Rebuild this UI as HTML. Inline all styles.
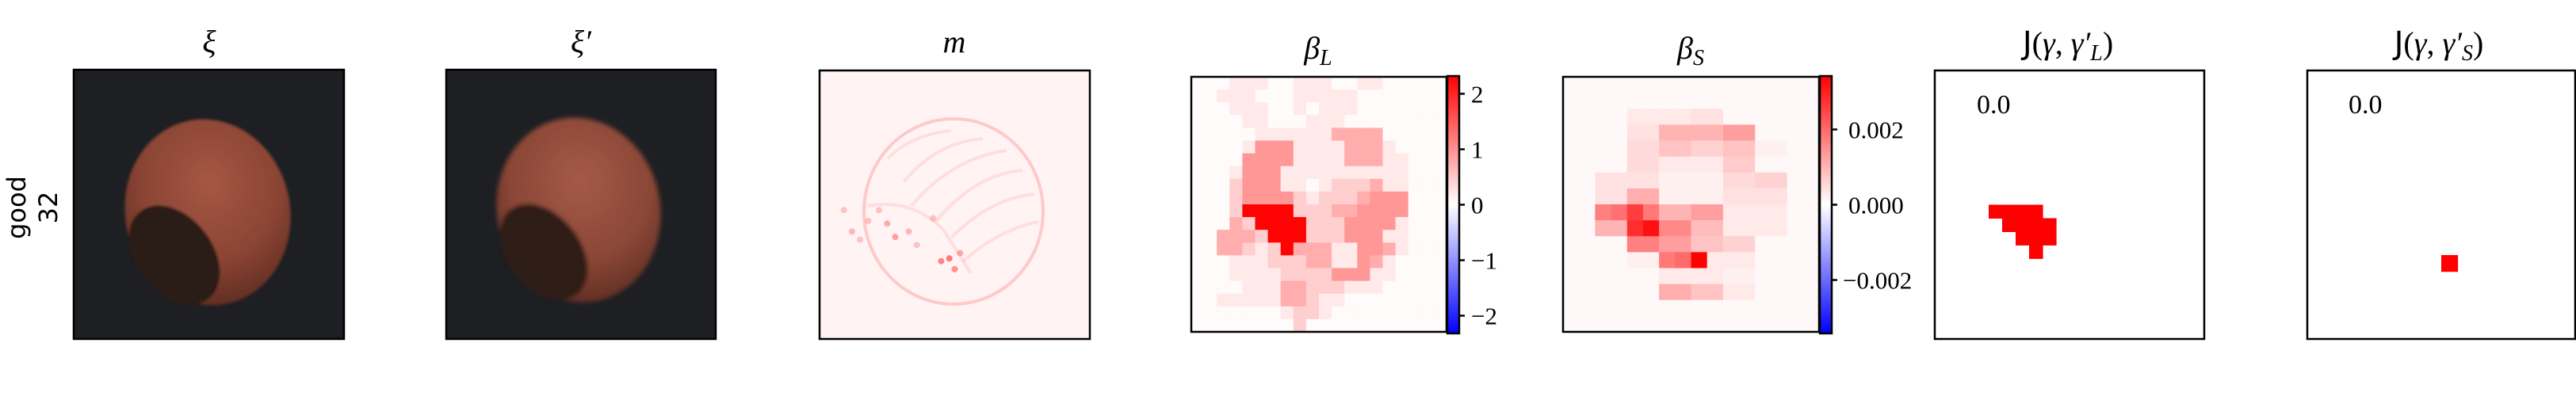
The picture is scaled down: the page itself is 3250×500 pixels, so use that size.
<!DOCTYPE html>
<html><head><meta charset="utf-8"><style>
html,body{margin:0;padding:0;background:#fff;width:3250px;height:500px;overflow:hidden}
svg{display:block}
.t{font-family:"Liberation Serif","DejaVu Serif",serif;font-style:italic;font-size:40px;fill:#000}
.tk{font-family:"Liberation Serif","DejaVu Serif",serif;font-size:31px;fill:#000}
.sc{font-family:"Liberation Serif","DejaVu Serif",serif;font-size:34px;fill:#000}
</style></head><body>
<svg id="fig" width="3250" height="500" viewBox="0 0 3250 500" xmlns="http://www.w3.org/2000/svg">
<defs>
<linearGradient id="bwr" x1="0" y1="0" x2="0" y2="1">
<stop offset="0" stop-color="#ff0000"/><stop offset="0.5" stop-color="#ffffff"/><stop offset="1" stop-color="#0000ff"/>
</linearGradient>
<radialGradient id="nutg" cx="0.55" cy="0.35" r="0.7">
<stop offset="0" stop-color="#a65744"/><stop offset="0.6" stop-color="#8a4433"/><stop offset="1" stop-color="#5a2a20"/>
</radialGradient>
<radialGradient id="nutg2" cx="0.55" cy="0.35" r="0.7">
<stop offset="0" stop-color="#a55a48"/><stop offset="0.6" stop-color="#8b4736"/><stop offset="1" stop-color="#5c2c22"/>
</radialGradient>
<filter id="blur1"><feGaussianBlur stdDeviation="1.5"/></filter>
<filter id="blur2"><feGaussianBlur stdDeviation="3"/></filter>
</defs>

<g>
<text x="32" y="262" transform="rotate(-90 32 262)" text-anchor="middle" font-family="DejaVu Sans, Liberation Sans, sans-serif" font-size="32">good</text>
<text x="72" y="262" transform="rotate(-90 72 262)" text-anchor="middle" font-family="DejaVu Sans, Liberation Sans, sans-serif" font-size="32">32</text>
</g>

<g>
<text class="t" x="264" y="66" text-anchor="middle">ξ</text>
<rect x="93" y="88" width="341" height="340" fill="#1e1f23"/>
<g filter="url(#blur1)">
<ellipse cx="262" cy="268" rx="104" ry="118" transform="rotate(-12 262 268)" fill="url(#nutg)"/>
<ellipse cx="220" cy="322" rx="70" ry="48" transform="rotate(52 220 322)" fill="#2b1c17"/>
</g>
<rect x="93" y="88" width="341" height="340" fill="none" stroke="#000" stroke-width="2.5"/>
</g>

<g>
<text class="t" x="733" y="66" text-anchor="middle">ξ′</text>
<rect x="563" y="88" width="340" height="340" fill="#1e1f23"/>
<g filter="url(#blur2)">
<ellipse cx="730" cy="265" rx="103" ry="117" transform="rotate(-12 730 265)" fill="url(#nutg2)"/>
<ellipse cx="686" cy="318" rx="68" ry="46" transform="rotate(52 686 318)" fill="#2e1f19"/>
</g>
<rect x="563" y="88" width="340" height="340" fill="none" stroke="#000" stroke-width="2.5"/>
</g>

<g id="mpanel">
<text class="t" x="1204" y="66" text-anchor="middle">m</text>
<rect x="1034" y="89" width="341" height="339" fill="#fff3f3"/>
<ellipse cx="1203" cy="267" rx="113" ry="117" fill="none" stroke="#ff6a6a" stroke-opacity="0.3" stroke-width="4"/>
<g stroke="#ff8080" stroke-opacity="0.18" stroke-width="4" fill="none">
<path d="M1120 200 Q1150 170 1200 165"/><path d="M1140 230 Q1180 180 1240 175"/>
<path d="M1150 260 Q1200 200 1270 190"/><path d="M1180 280 Q1230 220 1290 215"/>
<path d="M1200 300 Q1250 250 1305 245"/><path d="M1215 330 Q1260 290 1310 280"/>
<path d="M1095 260 Q1150 250 1190 290 L1225 345"/>
</g>
</g>
<rect x="1034" y="89" width="341" height="339" fill="none" stroke="#000" stroke-width="2.5"/>

<g id="bl">
<text class="t" x="1663" y="74" text-anchor="middle">β<tspan font-size="28" dy="8">L</tspan></text>
</g>
<rect x="1503" y="97" width="322" height="322" fill="none" stroke="#000" stroke-width="2.5"/>
<g>
<rect x="1826" y="96" width="15" height="325" fill="url(#bwr)" stroke="#000" stroke-width="2.5"/>
<g id="blticks"></g>
</g>

<g id="bs">
<text class="t" x="2133" y="74" text-anchor="middle">β<tspan font-size="28" dy="8">S</tspan></text>
</g>
<rect x="1972" y="97" width="323" height="322" fill="none" stroke="#000" stroke-width="2.5"/>
<g>
<rect x="2296" y="96" width="15" height="325" fill="url(#bwr)" stroke="#000" stroke-width="2.5"/>
<g id="bsticks"></g>
</g>

<g id="jl">
<text x="2609" y="68" text-anchor="middle" font-size="40"><tspan font-family="DejaVu Sans, sans-serif">J</tspan><tspan font-family="Liberation Serif, serif">(</tspan><tspan font-family="Liberation Serif, serif" font-style="italic">γ</tspan><tspan font-family="Liberation Serif, serif">, </tspan><tspan font-family="Liberation Serif, serif" font-style="italic">γ′</tspan><tspan font-family="Liberation Serif, serif" font-style="italic" font-size="28" dy="8">L</tspan><tspan font-family="Liberation Serif, serif" dy="-8">)</tspan></text>
<rect x="2441" y="89" width="340" height="339" fill="#fff"/>
<text class="sc" x="2494" y="143">0.0</text>
</g>
<rect x="2441" y="89" width="340" height="339" fill="none" stroke="#000" stroke-width="2.5"/>

<g id="js">
<text x="3077" y="68" text-anchor="middle" font-size="40"><tspan font-family="DejaVu Sans, sans-serif">J</tspan><tspan font-family="Liberation Serif, serif">(</tspan><tspan font-family="Liberation Serif, serif" font-style="italic">γ</tspan><tspan font-family="Liberation Serif, serif">, </tspan><tspan font-family="Liberation Serif, serif" font-style="italic">γ′</tspan><tspan font-family="Liberation Serif, serif" font-style="italic" font-size="28" dy="8">S</tspan><tspan font-family="Liberation Serif, serif" dy="-8">)</tspan></text>
<rect x="2911" y="89" width="338" height="339" fill="#fff"/>
<text class="sc" x="2963" y="143">0.0</text>
</g>
<rect x="2911" y="89" width="338" height="339" fill="none" stroke="#000" stroke-width="2.5"/>
</svg>

<script>
const betaLRows = [
"00011100111001100000",
"00111000111110000000",
"00011100101110000000",
"00001100011100000000",
"00000111111333300000",
"00001444111133310000",
"00004444111133311000",
"00014441111111111000",
"00024441101222311000",
"00024444212223444000",
"00029999222334444000",
"00032999922244441000",
"00333299922244411000",
"00332129333114431000",
"00011122233114310000",
"00011112222444110000",
"00001113322211100000",
"00111113321100000000",
"00000001221000000000",
"00000000200000000000"];
const betaLLevels = [0.04, 0.2, 0.45, 0.75, 0.95, 1.2, 1.5, 1.8, 2.0, 2.3];
const betaLVmax = 2.32;
const betaLTicks = [2, 1, 0, -1, -2];
const betaLTickLabels = ["2", "1", "0", "−1", "−2"];

const betaS = [
[1,1,1,1,1,1,1,1,1,1,1,1,1,1,1,1],
[1,1,1,1,1,1,1,1,1,1,1,1,1,1,1,1],
[1,1,1,1,3,3,3,3,4,4,1,1,1,1,1,1],
[1,1,1,1,4,4,10,10,10,10,13,13,1,1,1,1],
[1,1,1,1,5,5,8,8,6,6,8,8,2,2,1,1],
[1,1,1,1,5,5,3,3,3,3,7,7,1,1,1,1],
[1,1,4,4,4,4,2,2,2,2,5,5,6,6,1,1],
[1,1,4,4,11,11,2,2,2,2,4,4,4,4,1,1],
[1,1,17,19,26,18,10,10,13,13,3,3,3,3,1,1],
[1,1,10,10,28,32,16,16,9,9,3,3,3,3,1,1],
[1,1,1,1,17,17,13,13,8,8,6,6,1,1,1,1],
[1,1,1,1,2,2,18,20,34,3,3,3,1,1,1,1],
[1,1,1,1,1,1,3,3,3,3,2,2,1,1,1,1],
[1,1,1,1,1,1,11,11,8,8,3,3,1,1,1,1],
[1,1,1,1,1,1,1,1,1,1,1,1,1,1,1,1],
[1,1,1,1,1,1,1,1,1,1,1,1,1,1,1,1]];
const betaSScale = 1e-4;
const betaSVmax = 0.00342;
const betaSTicks = [0.002, 0, -0.002];
const betaSTickLabels = ["0.002", "0.000", "−0.002"];

const mHotX = [0.09,0.12,0.18,0.25,0.28,0.33,0.42,0.45,0.48,0.50,0.52,0.36,0.22,0.15];
const mHotY = [0.52,0.60,0.56,0.57,0.62,0.60,0.55,0.71,0.70,0.74,0.68,0.65,0.52,0.63];
const mHotV = [0.4,0.5,0.4,0.6,0.7,0.5,0.4,0.9,1.0,0.8,0.6,0.4,0.4,0.4];

const NS = "http://www.w3.org/2000/svg";
function bwr(t){ t=Math.max(-1,Math.min(1,t));
  if(t>=0){const c=Math.round(255*(1-t));return `rgb(255,${c},${c})`;}
  const c=Math.round(255*(1+t));return `rgb(${c},${c},255)`; }
function mk(tag, attrs, parent){const e=document.createElementNS(NS,tag);for(const k in attrs)e.setAttribute(k,attrs[k]);parent.appendChild(e);return e;}

const BL={x:1503,y:97,w:322,h:322};
const blG=document.getElementById('bl');
const nR=betaLRows.length,nC=betaLRows[0].length;
const blx=c=>BL.x+c*BL.w/nC, bly=r=>BL.y+r*BL.h/nR;
for(let r=0;r<nR;r++)for(let c=0;c<nC;c++){
  const v=betaLLevels[+betaLRows[r][c]];
  const e=mk('rect',{x:blx(c),y:bly(r),width:BL.w/nC+0.6,height:BL.h/nR+0.6,fill:bwr(v/betaLVmax)},blG);
  
  
}
const CB={y:96,h:325};
const cbyL=v=>CB.y+CB.h/2-v/betaLVmax*CB.h/2;
const blt=document.getElementById('blticks');
betaLTicks.forEach((v,i)=>{
  mk('line',{x1:1841,x2:1848,y1:cbyL(v),y2:cbyL(v),stroke:'#000','stroke-width':2.5},blt);
  const t=mk('text',{x:1856,y:cbyL(v)+11,class:'tk'},blt);t.textContent=betaLTickLabels[i];
  
  
});

const BS={x:1972,y:97,w:323,h:322};
const bsG=document.getElementById('bs');
const sR=betaS.length,sC=betaS[0].length;
const bsx=c=>BS.x+c*BS.w/sC, bsy=r=>BS.y+r*BS.h/sR;
let maxS=-Infinity,maxR=0,maxC=0;
for(let r=0;r<sR;r++)for(let c=0;c<sC;c++){
  const v=betaS[r][c]*betaSScale;
  if(v>maxS){maxS=v;maxR=r;maxC=c;}
  const e=mk('rect',{x:bsx(c),y:bsy(r),width:BS.w/sC+0.6,height:BS.h/sR+0.6,fill:bwr(v/betaSVmax)},bsG);
  
  
}
const cbyS=v=>CB.y+CB.h/2-v/betaSVmax*CB.h/2;
const bst=document.getElementById('bsticks');
betaSTicks.forEach((v,i)=>{
  mk('line',{x1:2311,x2:2318,y1:cbyS(v),y2:cbyS(v),stroke:'#000','stroke-width':2.5},bst);
  const t=mk('text',{x:v<0?2325:2332,y:cbyS(v)+11,class:'tk'},bst);t.textContent=betaSTickLabels[i];
  
  
});

const JL={x:2441,y:89,w:340,h:339};
const jlG=document.getElementById('jl');
const topLevel=Math.max(...betaLRows.map(s=>Math.max(...s.split('').map(Number))));
for(let r=0;r<nR;r++)for(let c=0;c<nC;c++){
  if(+betaLRows[r][c]!==topLevel)continue;
  const e=mk('rect',{x:JL.x+c*JL.w/nC,y:JL.y+r*JL.h/nR,width:JL.w/nC+0.6,height:JL.h/nR+0.6,fill:'#ff0000'},jlG);
  
  
}
const JS={x:2911,y:89,w:338,h:339};
const jsG=document.getElementById('js');
const sq=mk('rect',{x:JS.x+maxC*JS.w/sC,y:JS.y+maxR*JS.h/sR,width:JS.w/sC,height:JS.h/sR,fill:'#ff0000'},jsG);



const MP={x:1034,y:89,w:341,h:339};
const mG=document.getElementById('mpanel');
mHotX.forEach((hx,i)=>{
  const d=mk('circle',{cx:MP.x+hx*MP.w,cy:MP.y+mHotY[i]*MP.h,r:4,fill:'#ff0000','fill-opacity':0.5*mHotV[i]},mG);
  
  
});
</script>
</body></html>
